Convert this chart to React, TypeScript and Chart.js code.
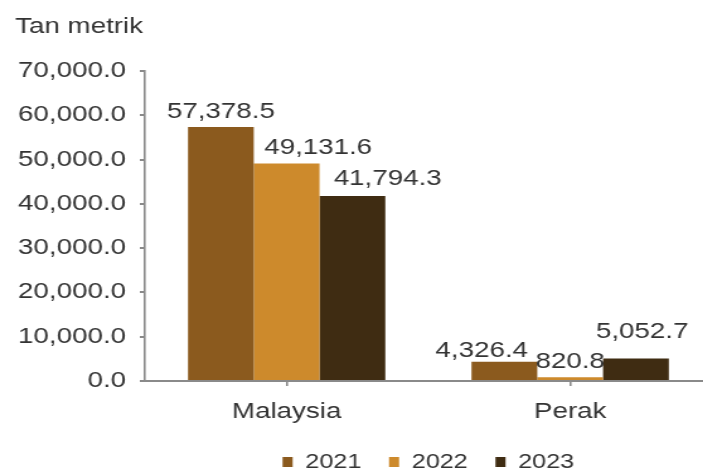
import React, { useEffect, useRef } from "react";
import { Chart, registerables } from "chart.js";

Chart.register(...registerables);

// ---- data ----
const categories = ["Malaysia", "Perak"];
const seriesNames = ["2021", "2022", "2023"];
const values2021 = [57378.5, 4326.4];
const values2022 = [49131.6, 820.8];
const values2023 = [41794.3, 5052.7];
const yTickValues = [0, 10000, 20000, 30000, 40000, 50000, 60000, 70000];
const unitTitle = "Tan metrik";

// ---- style ----
const FONT = "'Liberation Sans', Arial, Helvetica, sans-serif";
const TEXT = "#333333";
const AXIS = "#8a8a8a";
const COLORS = ["#8B5A1E", "#CD8A2C", "#3F2C12"];
const SX = 1.26; // horizontal stretch of the reference picture
const CW = 565;
const CH = 472;

const fmt = (v: number) =>
  v.toLocaleString("en-US", { minimumFractionDigits: 1, maximumFractionDigits: 1 });

const valueLabels = {
  id: "valueLabels",
  afterDatasetsDraw(chart: any, _args: any, opts: any) {
    const ctx = chart.ctx;
    ctx.save();
    ctx.font = `22px ${FONT}`;
    ctx.fillStyle = TEXT;
    ctx.textAlign = "center";
    ctx.textBaseline = "alphabetic";
    chart.data.datasets.forEach((ds: any, di: number) => {
      const meta = chart.getDatasetMeta(di);
      meta.data.forEach((bar: any, i: number) => {
        const sh = (opts.shifts && opts.shifts[di] && opts.shifts[di][i]) || [0, 0];
        ctx.fillText(fmt(ds.data[i]), bar.x + sh[0], bar.y - opts.gap + sh[1]);
      });
    });
    ctx.restore();
  },
};

export default function App() {
  const ref = useRef<HTMLCanvasElement | null>(null);

  useEffect(() => {
    if (!ref.current) return;
    Chart.defaults.font.family = FONT;
    const chart = new Chart(ref.current, {
      type: "bar",
      data: {
        labels: categories,
        datasets: [
          { label: seriesNames[0], data: values2021, backgroundColor: COLORS[0] },
          { label: seriesNames[1], data: values2022, backgroundColor: COLORS[1] },
          { label: seriesNames[2], data: values2023, backgroundColor: COLORS[2] },
        ],
      },
      options: {
        responsive: false,
        animation: false,
        devicePixelRatio: 1,
        layout: { padding: { left: 12, right: 0, top: 0, bottom: 0 } },
        datasets: { bar: { barPercentage: 1, categoryPercentage: 0.696, borderWidth: 0 } },
        scales: {
          x: {
            grid: { drawOnChartArea: false, offset: false, tickLength: 5, color: AXIS, lineWidth: 1.6 },
            border: { color: AXIS, width: 2 },
            ticks: { font: { size: 22, family: FONT }, color: TEXT, padding: 13 },
            afterFit: (s: any) => { s.height = 49; },
          },
          y: {
            min: 0,
            max: 70000,
            afterBuildTicks: (s: any) => { s.ticks = yTickValues.map((v) => ({ value: v })); },
            ticks: { callback: (v: any) => fmt(Number(v)), font: { size: 22, family: FONT }, color: TEXT, padding: 11 },
            grid: { drawOnChartArea: false, tickLength: 4, color: AXIS, lineWidth: 2 },
            border: { color: AXIS, width: 1.6 },
            afterFit: (s: any) => { s.width = 103; },
          },
        },
        plugins: {
          title: {
            display: true,
            text: unitTitle,
            align: "start",
            color: TEXT,
            font: { size: 22, weight: "normal", family: FONT },
            padding: { top: 14, bottom: 30.6 },
          },
          legend: {
            position: "bottom",
            fullSize: false,
            maxHeight: 42,
            labels: { boxWidth: 8, boxHeight: 10, padding: 22, color: TEXT, font: { size: 20, family: FONT } },
          },
          tooltip: { enabled: false },
          valueLabels: {
            gap: 9,
            shifts: [[[0, 0], [-18, 4]], [[25, 0], [0, 0]], [[28, -2], [5, -12]]],
          },
        } as any,
      },
      plugins: [valueLabels],
    });
    return () => chart.destroy();
  }, []);

  return (
    <div style={{ position: "fixed", left: 0, top: 0, width: 703, height: 472, overflow: "hidden", background: "#fff" }}>
      <canvas
        ref={ref}
        width={CW}
        height={CH}
        style={{ width: CW, height: CH, transform: `scaleX(${SX})`, transformOrigin: "0 0", display: "block" }}
      />
    </div>
  );
}
